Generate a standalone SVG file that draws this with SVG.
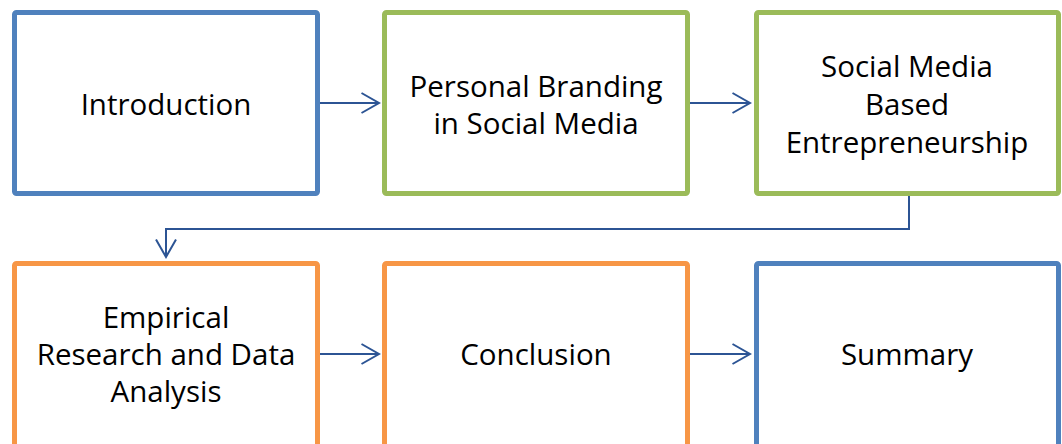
<svg xmlns="http://www.w3.org/2000/svg" width="1062" height="444" viewBox="0 0 1062 444">
<defs>
<style>
.box{fill:#fff;stroke-width:5}
.blue{stroke:#4F81BD}
.green{stroke:#9BBB59}
.orange{stroke:#F79646}
.lbl{font-family:"Open Sans","Liberation Sans",sans-serif;font-size:29.5px;fill:#000;text-anchor:middle;dominant-baseline:central}
.con{fill:none;stroke:#2C5494;stroke-width:2}
</style>
<marker id="arr" viewBox="0 0 20 22" refX="18.5" refY="11" markerWidth="20" markerHeight="22" markerUnits="userSpaceOnUse" orient="auto">
<path d="M1,1 L18.5,11 L1,21" fill="none" stroke="#2C5494" stroke-width="2"/>
</marker>
</defs>
<rect width="1062" height="444" fill="#fff"/>
<g id="n1"><rect class="box blue" x="14.5" y="12.5" width="303" height="181" rx="2"/><text class="lbl" x="166" y="103">Introduction</text></g>
<g id="n2"><rect class="box green" x="384.5" y="12.5" width="303" height="181" rx="2"/><text class="lbl" x="536" y="85">Personal Branding</text><text class="lbl" x="536" y="122">in Social Media</text></g>
<g id="n3"><rect class="box green" x="756.5" y="12.5" width="302" height="181" rx="2"/><text class="lbl" x="907" y="65">Social Media</text><text class="lbl" x="907" y="103">Based</text><text class="lbl" x="907" y="141">Entrepreneurship</text></g>
<g id="n4"><rect class="box orange" x="14.5" y="263.5" width="303" height="190" rx="2"/><text class="lbl" x="166" y="316">Empirical</text><text class="lbl" x="166" y="353">Research and Data</text><text class="lbl" x="166" y="390">Analysis</text></g>
<g id="n5"><rect class="box orange" x="384.5" y="263.5" width="303" height="190" rx="2"/><text class="lbl" x="536" y="353">Conclusion</text></g>
<g id="n6"><rect class="box blue" x="756.5" y="263.5" width="302" height="190" rx="2"/><text class="lbl" x="907" y="353">Summary</text></g>
<g id="connectors">
<path class="con" d="M320,103 H379" marker-end="url(#arr)"/>
<path class="con" d="M690,103 H750" marker-end="url(#arr)"/>
<path class="con" d="M909,196 V229 H166 V257" marker-end="url(#arr)"/>
<path class="con" d="M320,354 H379" marker-end="url(#arr)"/>
<path class="con" d="M690,354 H750" marker-end="url(#arr)"/>
</g>
</svg>
